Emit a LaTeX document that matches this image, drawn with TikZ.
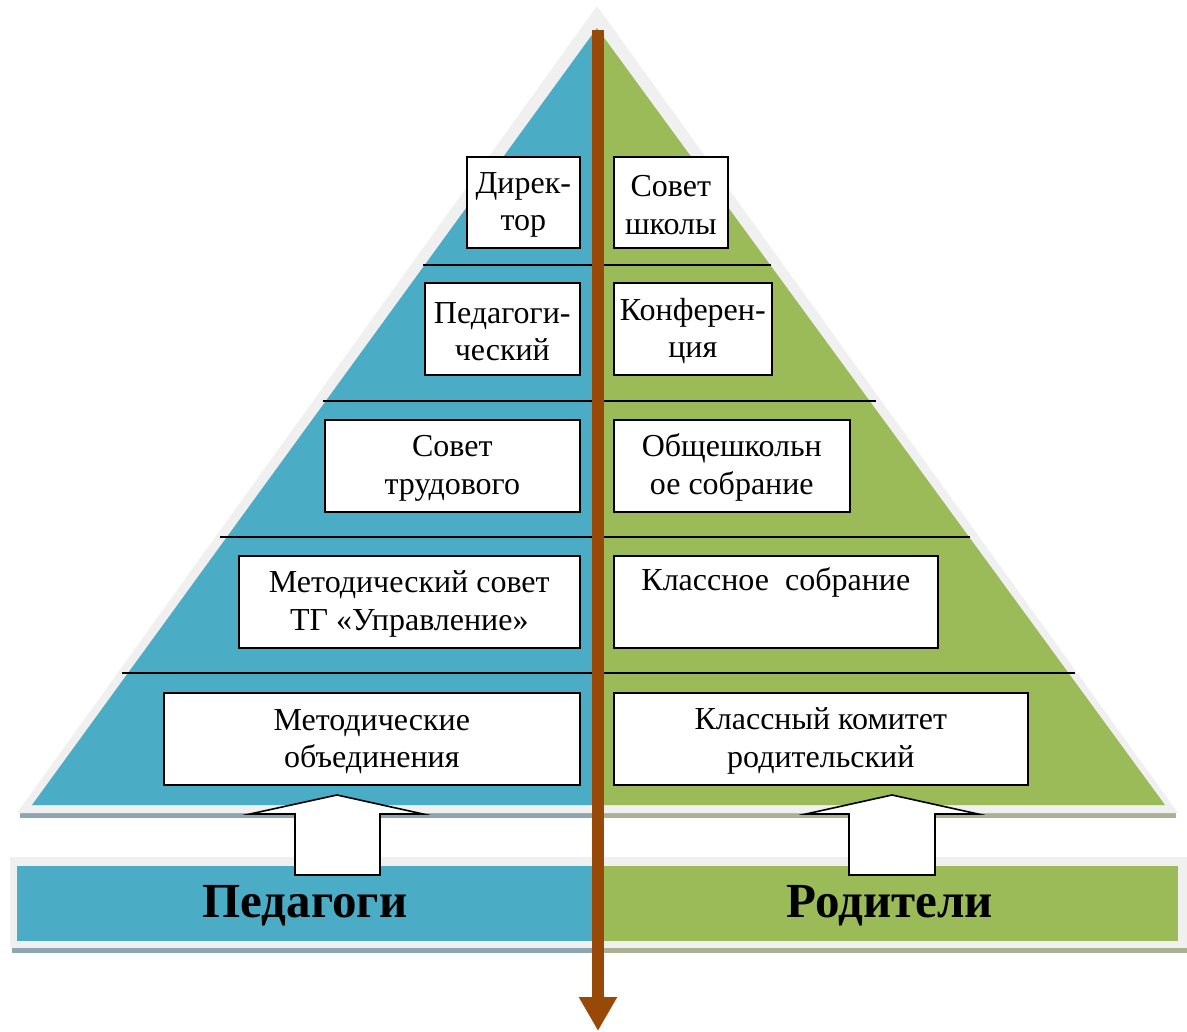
\documentclass[tikz,border=0pt]{standalone}
\usepackage{fontspec}
\setmainfont{Liberation Serif}
\usetikzlibrary{arrows.meta}
\definecolor{pblue}{HTML}{4BACC6}
\definecolor{pgreen}{HTML}{9BBB59}
\definecolor{pbrown}{HTML}{984807}
\definecolor{pgray}{HTML}{F0F0F0}
\definecolor{shblue}{HTML}{8BA8B2}
\definecolor{shgreen}{HTML}{A9B293}
\begin{document}
\begin{tikzpicture}[x=1pt,y=-1pt,
  lvbox/.style={draw=black, line width=1.6pt, fill=white, inner sep=0pt,
    font=\fontsize{32}{37.5}\selectfont, align=center, anchor=north west},
  sepline/.style={draw=black, line width=1.6pt},
  blockarrow/.style={draw=black, line width=1.6pt, fill=white},
  bartext/.style={font=\fontsize{49}{49}\selectfont\bfseries}
]
\useasboundingbox (0,0) rectangle (1187,1032);

% triangle shadow and border
\fill[shblue] (20,812) rectangle (597,818);
\fill[shgreen] (597,812) rectangle (1176,818);
\fill[pgray] (597,6) -- (1178,813) -- (17,813) -- cycle;
% halves
\fill[pblue] (597,28) -- (597,805) -- (32,805) -- cycle;
\fill[pgreen] (597,28) -- (1165,805) -- (597,805) -- cycle;

% separator lines
\coordinate (a1) at (423,265); \coordinate (b1) at (771,265);
\coordinate (a2) at (323,401); \coordinate (b2) at (876,401);
\coordinate (a3) at (220,537); \coordinate (b3) at (970,537);
\coordinate (a4) at (122,673); \coordinate (b4) at (1075,673);
\draw[sepline] (a1) -- (b1);
\draw[sepline] (a2) -- (b2);
\draw[sepline] (a3) -- (b3);
\draw[sepline] (a4) -- (b4);

% left boxes
\node[lvbox, minimum width=113, minimum height=91] (dir) at (466,156) {\strut Дирек-\\тор};
\node[lvbox, minimum width=155, minimum height=92] (ped) at (424,282) {\strut Педагоги-\\ческий};
\node[lvbox, minimum width=255, minimum height=92] (trud) at (324,419) {\strut Совет\\трудового};
\node[lvbox, minimum width=341, minimum height=92] (met) at (238,555) {\strut Методический совет\\ТГ «Управление»};
\node[lvbox, minimum width=416, minimum height=92] (mo) at (163,692) {\strut Методические\\объединения};
% right boxes
\node[lvbox, minimum width=114, minimum height=91] (sov) at (613,156) {\strut Совет\\школы};
\node[lvbox, minimum width=158, minimum height=92] (konf) at (613,282) {\strut Конферен-\\ция};
\node[lvbox, minimum width=236, minimum height=92] (obsh) at (613,419) {\strut Общешкольн\\ое собрание};
\node[lvbox, minimum width=324, minimum height=92] (kls) at (613,555) {\strut Классное\ \ собрание\\\strut};
\node[lvbox, minimum width=414, minimum height=92] (klk) at (613,692) {\strut Классный комитет\\родительский};

% bottom bar
\fill[shblue] (12,947) rectangle (597,953);
\fill[shgreen] (597,947) rectangle (1187,953);
\fill[pgray] (10,857) rectangle (1187,948);
\fill[pblue] (17,866) rectangle (597,941);
\fill[pgreen] (597,866) rectangle (1178,941);
\node[bartext] (pedg) at (305,906) {Педагоги};
\node[bartext] (rodt) at (890,906) {Родители};

% block arrows
\draw[blockarrow] (337,795) -- (423,814) -- (380,814) -- (380,875) -- (295,875) -- (295,814) -- (250,814) -- cycle;
\draw[blockarrow] (892,795) -- (978,814) -- (935,814) -- (935,875) -- (849,875) -- (849,814) -- (806,814) -- cycle;

% central arrow
\coordinate (atop) at (598,30);
\coordinate (abot) at (598,1031);
\draw[pbrown, line width=12pt, -{Triangle[width=36pt,length=34pt]}] (atop) -- (abot);
\end{tikzpicture}
\end{document}
